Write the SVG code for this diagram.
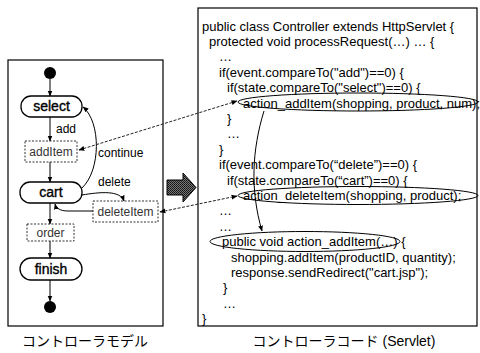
<svg xmlns="http://www.w3.org/2000/svg" width="480" height="353" viewBox="0 0 480 353">
<style>
text{font-family:"Liberation Sans","Noto Sans CJK JP",sans-serif;fill:#000}
.st{font-size:14px;text-anchor:middle;stroke:#000;stroke-width:0.35}
.ac{font-size:12px;text-anchor:middle;fill:#333}
.lb{font-size:12px}
.code{font-size:13px}
.cap{font-size:14px;text-anchor:middle}
.frame{fill:none;stroke:#000;stroke-width:1.2}
.state{fill:#fff;stroke:#000;stroke-width:1.3}
.act{fill:#fff;stroke:#333;stroke-width:1;stroke-dasharray:2,1.5}
.flow{fill:none;stroke:#000;stroke-width:1;marker-end:url(#ah)}
.link{fill:none;stroke:#222;stroke-width:1;stroke-dasharray:3,1.5;marker-start:url(#ah);marker-end:url(#ah)}
.ell{fill:none;stroke:#000;stroke-width:1}
</style>
<defs>
<marker id="ah" viewBox="0 0 10 10" refX="9" refY="5" markerWidth="6" markerHeight="6" markerUnits="userSpaceOnUse" orient="auto-start-reverse">
<path d="M0,1 L10,5 L0,9 z" fill="#000"/>
</marker>
<pattern id="ht" width="2" height="2" patternUnits="userSpaceOnUse">
<rect width="2" height="2" fill="#777"/>
<rect width="1" height="1" fill="#111"/>
<rect x="1" y="1" width="1" height="1" fill="#222"/>
</pattern>
</defs>

<g id="model-frame"><rect class="frame" x="8" y="60" width="155" height="266"/></g>
<g id="code-frame"><rect class="frame" x="198" y="8" width="279" height="318"/></g>

<g id="start"><circle cx="50" cy="73" r="6" fill="#000"/></g>
<g id="select"><rect class="state" x="21" y="96" width="61" height="21" rx="10"/><text class="st" x="51.5" y="111">select</text></g>
<g id="addItem"><rect class="act" x="25" y="141" width="52" height="21"/><text class="ac" x="51" y="156">addItem</text></g>
<g id="cart"><rect class="state" x="20" y="182" width="62" height="21" rx="10"/><text class="st" x="51" y="197">cart</text></g>
<g id="deleteItem"><rect class="act" x="93" y="201" width="65" height="21"/><text class="ac" x="125.5" y="216">deleteItem</text></g>
<g id="order"><rect class="act" x="27" y="224" width="47" height="17"/><text class="ac" x="50.5" y="236.5">order</text></g>
<g id="finish"><rect class="state" x="20" y="258" width="62" height="22" rx="11"/><text class="st" x="51" y="274">finish</text></g>
<g id="end"><circle cx="50" cy="307" r="6" fill="#000"/></g>

<g id="big-arrow"><polygon points="167,180 183,180 183,173 196,187.5 183,202 183,195 167,195" fill="url(#ht)" stroke="#000" stroke-width="1"/></g>

<g id="code">
<text class="code" x="202" y="30.5">public class Controller extends HttpServlet {</text>
<text class="code" x="209" y="45.9">protected void processRequest(…) … {</text>
<text class="code" x="219" y="61.3">…</text>
<text class="code" x="219" y="76.7">if(event.compareTo("add")==0) {</text>
<text class="code" x="227" y="92.1">if(state.compareTo("select")==0) {</text>
<text class="code" x="243" y="107.5">action_addItem(shopping, product, num);</text>
<text class="code" x="227" y="122.9">}</text>
<text class="code" x="227" y="138.3">…</text>
<text class="code" x="219" y="153.7">}</text>
<text class="code" x="219" y="169.1">if(event.compareTo(“delete”)==0) {</text>
<text class="code" x="227" y="184.5">if(state.compareTo(“cart”)==0) {</text>
<text class="code" x="243" y="199.9">action_deleteItem(shopping, product);</text>
<text class="code" x="219" y="215.3">…</text>
<text class="code" x="219" y="230.7">…</text>
<text class="code" x="222" y="246.1">public void action_addItem(…) {</text>
<text class="code" x="231" y="261.5">shopping.addItem(productID, quantity);</text>
<text class="code" x="231" y="276.9">response.sendRedirect("cart.jsp");</text>
<text class="code" x="223" y="292.3">}</text>
<text class="code" x="223" y="307.7">…</text>
<text class="code" x="202" y="323.1">}</text>
</g>

<g id="highlights">
<ellipse class="ell" cx="358" cy="102" rx="120" ry="9"/>
<ellipse class="ell" cx="358" cy="195.5" rx="120" ry="9"/>
<ellipse class="ell" cx="305" cy="241.5" rx="95" ry="10"/>
</g>

<g id="connectors">
<path class="flow" d="M50,79 L50,96"/>
<path class="flow" d="M50,117 L50,141"/>
<path class="flow" d="M50,162 L50,182"/>
<path class="flow" d="M50,203 L50,224"/>
<path class="flow" d="M50,241 L50,258"/>
<path class="flow" d="M50,280 L50,301"/>
<path class="flow" d="M82,188 C101,170 101,122 83,107"/>
<path class="flow" d="M82,195 C100,192 120,190 124,201"/>
<path class="flow" d="M93,211 L68,211 C60,211 56,208 55,204"/>
<path class="link" d="M79,150 L237,101"/>
<path class="link" d="M160,212 L237,196"/>
<path class="flow" d="M264,111 C252,150 250,190 262,231"/>
<text class="lb" x="56" y="133">add</text>
<text class="lb" x="98" y="157">continue</text>
<text class="lb" x="98" y="186">delete</text>
</g>

<g id="captions">
<text class="cap" x="85" y="346">コントローラモデル</text>
<text class="cap" x="344" y="346">コントローラコード (Servlet)</text>
</g>
</svg>
